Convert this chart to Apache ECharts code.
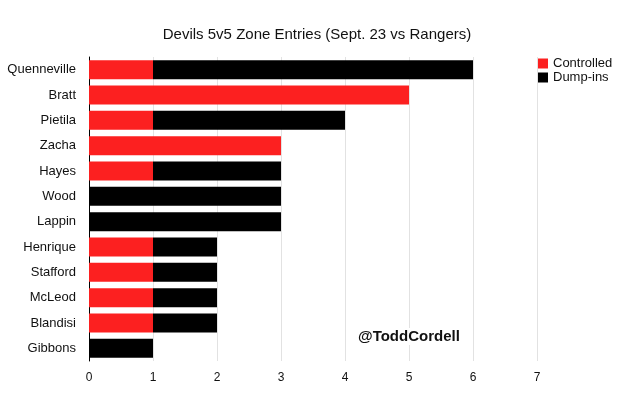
<!DOCTYPE html>
<html>
<head>
<meta charset="utf-8">
<script src="https://cdn.jsdelivr.net/npm/echarts@6/dist/echarts.min.js"></script>
<style>html,body{margin:0;padding:0;background:#fff}#main{width:618px;height:398px}</style>
</head>
<body>
<div id="main"></div>
<script>
var players = ['Quenneville', 'Bratt', 'Pietila', 'Zacha', 'Hayes', 'Wood', 'Lappin', 'Henrique', 'Stafford', 'McLeod', 'Blandisi', 'Gibbons'];
var controlled = [1, 5, 1, 3, 1, 0, 0, 1, 1, 1, 1, 0];
var dumpIns = [5, 0, 3, 0, 2, 3, 3, 1, 1, 1, 1, 1];
var xTicks = [0, 1, 2, 3, 4, 5, 6, 7];

var chart = echarts.init(document.getElementById('main'));

var font = 'Liberation Sans, Arial, Helvetica, sans-serif';

var option = {
    animation: false,
    textStyle: { fontFamily: font },
    title: {
        text: 'Devils 5v5 Zone Entries (Sept. 23 vs Rangers)',
        left: 312,
        textAlign: 'center',
        top: 22,
        textStyle: { fontSize: 15, fontWeight: 'normal', color: '#111', fontFamily: font }
    },
    legend: {
        orient: 'vertical',
        left: 533,
        top: 52,
        itemWidth: 10,
        itemHeight: 10,
        itemGap: 1,
        icon: 'rect',
        textStyle: { fontSize: 13, color: '#111', fontFamily: font },
        data: ['Controlled', 'Dump-ins']
    },
    grid: { left: 89, right: 81, top: 57, bottom: 37 },
    xAxis: {
        type: 'value',
        min: 0,
        max: xTicks[xTicks.length - 1],
        interval: 1,
        axisLine: { show: false },
        axisTick: { show: false },
        axisLabel: { color: '#111', fontSize: 12, margin: 11, fontFamily: font },
        splitLine: { show: true, lineStyle: { color: '#e2e2e2', width: 1 } }
    },
    yAxis: {
        type: 'category',
        inverse: true,
        data: players,
        axisLine: { show: true, lineStyle: { color: '#000', width: 1 } },
        axisTick: { show: false },
        axisLabel: { color: '#111', fontSize: 13, margin: 13, fontFamily: font }
    },
    graphic: [{
        type: 'text',
        left: 357,
        top: 328,
        z: 100,
        style: {
            text: '@ToddCordell',
            font: 'bold 15px ' + font,
            fill: '#111',
            backgroundColor: '#fff',
            padding: [1, 1]
        }
    }],
    series: [
        {
            name: 'Controlled',
            type: 'bar',
            stack: 'entries',
            barCategoryGap: '25%',
            itemStyle: { color: '#fc2020' },
            data: controlled
        },
        {
            name: 'Dump-ins',
            type: 'bar',
            stack: 'entries',
            barCategoryGap: '25%',
            itemStyle: { color: '#000000' },
            data: dumpIns
        }
    ]
};

chart.setOption(option);
</script>
</body>
</html>
